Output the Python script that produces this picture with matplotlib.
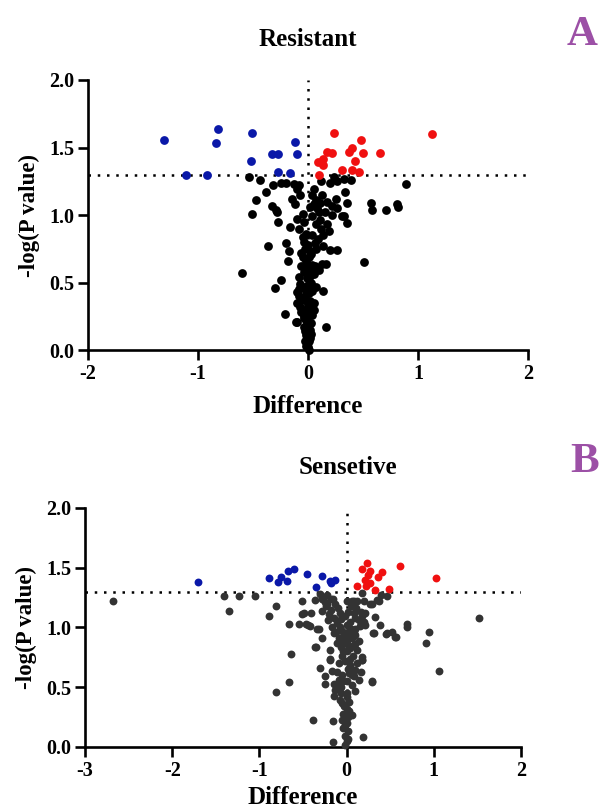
import matplotlib
matplotlib.use("Agg")
import matplotlib.pyplot as plt
from matplotlib.ticker import FormatStrFormatter

plt.rcParams['font.family'] = ['Liberation Serif', 'DejaVu Serif']
plt.rcParams['font.weight'] = 'bold'
plt.rcParams['axes.unicode_minus'] = False

# Resistant panel: significant up (red), significant down (blue), the rest (black)
res_up_x = [0.24, 1.125, 0.48, 0.17, 0.22, 0.375, 0.40, 0.50, 0.65, 0.43, 0.09, 0.14, 0.14, 0.10, 0.31, 0.40, 0.465]
res_up_y = [1.61, 1.60, 1.556, 1.47, 1.46, 1.47, 1.50, 1.457, 1.46, 1.40, 1.395, 1.415, 1.37, 1.30, 1.33, 1.33, 1.32]

res_down_x = [-1.31, -0.82, -0.84, -0.51, -0.52, -0.33, -0.27, -0.12, -0.10, -1.11, -0.92, -0.27, -0.16]
res_down_y = [1.556, 1.635, 1.53, 1.605, 1.40, 1.45, 1.45, 1.54, 1.455, 1.30, 1.30, 1.32, 1.31]

res_ns_x = [-0.54, -0.44, -0.38, -0.32, -0.25, -0.20, -0.13, -0.08, -0.10, -0.07, -0.47, -0.51,
            -0.33, -0.29, -0.28, -0.27, -0.16, -0.36, -0.20, -0.17, -0.18, -0.60, -0.25, -0.30,
            -0.21, -0.11,
            0.04, 0.07, 0.13, 0.11, 0.17, 0.20, 0.12, 0.265, 0.33, 0.39, 0.24, 0.05, 0.34, 0.35,
            0.25, 0.22, 0.26, 0.33, 0.35, 0.22, 0.31, 0.89, 0.57, 0.58, 0.71, 0.81, 0.82, 0.51,
            0.16, 0.14, 0.16, 0.26, 0.20, 0.14, 0.07, 0.02,
            -0.05, -0.04, -0.08, -0.05, -0.04, 0.04, 0.07, 0.11, 0.17, 0.19, 0.14, 0.04, -0.05,
            -0.02, 0.01, 0.04, 0.13, 0.10, 0.05, -0.04, -0.08, -0.01, -0.05, 0.07, 0.04, -0.07,
            -0.10, -0.08, -0.04, 0.01, 0.02, -0.07, -0.02, 0.02, -0.10, 0.04, -0.04, -0.10, -0.01,
            0.02, -0.02, 0.01, -0.01, 0.01, -0.04, -0.01, -0.02, 0.06, -0.03, 0.00, 0.03, -0.06,
            0.02, -0.03, 0.03, -0.06, 0.00, -0.03, 0.03, 0.00, 0.05, -0.06, 0.08, 0.10, 0.02,
            0.05, 0.15, 0.12, 0.09, 0.06, -0.02, -0.10, -0.12, -0.15,
            0.00, 0.02, -0.03, 0.00, -0.05, 0.05, -0.08, 0.00, 0.03, -0.01, -0.03, -0.06,
            0.00, -0.02, 0.03, -0.04]
res_ns_y = [1.28, 1.26, 1.17, 1.22, 1.24, 1.24, 1.23, 1.22, 1.19, 1.15, 1.11, 1.01,
            1.07, 1.04, 1.02, 0.95, 0.91, 0.77, 0.79, 0.73, 0.66, 0.57, 0.52, 0.46,
            0.27, 0.21,
            1.15, 1.11, 1.15, 1.09, 1.10, 1.24, 1.25, 1.25, 1.27, 1.26, 1.28, 1.19, 1.17, 1.09,
            1.12, 1.07, 1.05, 0.99, 0.94, 1.00, 0.99, 1.23, 1.09, 1.04, 1.04, 1.08, 1.06, 0.65,
            0.17, 0.44, 0.64, 0.74, 0.74, 0.77, 0.75, 0.73,
            1.01, 0.95, 0.90, 0.84, 0.80, 0.99, 0.93, 0.96, 0.93, 0.88, 0.85, 0.85, 0.69,
            0.66, 0.69, 0.63, 0.64, 0.59, 0.56, 0.58, 0.54, 0.53, 0.47, 0.47, 0.44, 0.49,
            0.43, 0.40, 0.37, 0.42, 0.36, 0.32, 0.30, 0.31, 0.35, 0.26, 0.24, 0.21, 0.20,
            0.15, 0.11, 0.07, 0.04, 0.00, 0.17, 0.10, 0.03, 0.62, 0.75, 0.78, 0.71, 0.62,
            0.55, 0.45, 0.50, 0.28, 0.25, 0.14, 0.12, 0.06, 0.35, 0.72, 1.05, 1.02, 1.06,
            1.08, 1.02, 0.90, 0.82, 0.79, 0.86, 0.97, 1.08, 1.12,
            0.02, 0.09, 0.07, 0.13, 0.30, 0.30, 0.45, 0.48, 0.58, 0.62, 0.40, 0.38,
            0.33, 0.22, 0.20, 0.25]

# Sensitive panel
sen_up_x = [0.233, 0.175, 0.27, 0.25, 0.405, 0.36, 0.206, 0.27, 0.118, 0.22, 0.33, 0.49, 0.615, 1.03]
sen_up_y = [1.537, 1.487, 1.475, 1.44, 1.467, 1.42, 1.397, 1.375, 1.347, 1.347, 1.314, 1.325, 1.517, 1.41]

sen_down_x = [-1.705, -0.887, -0.79, -0.75, -0.68, -0.67, -0.60, -0.455, -0.28, -0.35, -0.175, -0.13, -0.195]
sen_down_y = [1.38, 1.41, 1.383, 1.425, 1.39, 1.475, 1.49, 1.445, 1.43, 1.336, 1.37, 1.40, 1.39]

sen_ns_x = [-2.68, -1.41, -1.23, -1.05, -1.35, -0.81, -0.89, -0.66, -0.64, -0.66, -0.81, -0.39,
            -0.16, -0.16, -0.51, -0.51, -0.55, -0.47, -0.42, -0.34, -0.405, -0.28, -0.35, -0.30,
            -0.19, -0.245, -0.25, -0.49, -0.44, -0.32, -0.17, -0.36, -0.19, -0.19, -0.15,
            -0.30, -0.36, -0.28, -0.22, -0.16, -0.24, -0.18, -0.28, -0.20, -0.14, -0.11, -0.25,
            -0.13, -0.10, -0.21,
            1.52, 1.055, 0.94, 0.91, 0.69, 0.69, 0.52, 0.57, 0.455, 0.386, 0.30, 0.33, 0.21,
            0.367, 0.46, 0.29, 0.195, 0.08, 0.175, 0.19, 0.10, 0.287, 0.175, 0.06, 0.14, 0.04,
            0.18,
            0.06, 0.12, 0.27, 0.35, 0.39, 0.02, 0.08, 0.14, 0.10, 0.18, 0.215, 0.31, 0.46, 0.56,
            0.04, 0.02, 0.05, 0.11, 0.15,
            -0.09, -0.07, -0.11, -0.04, 0.00, 0.06, 0.10, 0.14, 0.08, 0.04, 0.12, -0.04, -0.05,
            0.04, 0.18,
            -0.17, -0.11, -0.05, -0.09, -0.04, -0.15, -0.13, -0.07, -0.15, 0.04, 0.02, 0.10, 0.16,
            0.08, 0.06, 0.29,
            -0.05, 0.00, -0.04, 0.02, 0.06, -0.05, 0.00, -0.04, 0.02, -0.02, 0.00, -0.02,
            -0.08, -0.05, 0.00, 0.05, -0.02, 0.00, 0.02, -0.02, 0.00, 0.03, -0.03, -0.08, 0.07,
            -0.09, 0.12,
            -0.12, -0.02, 0.08, 0.00, -0.06, 0.10, 0.03, -0.06, 0.00, -0.10, 0.00, 0.03, -0.02,
            0.02, -0.22, -0.18, -0.08, -0.06, 0.10, 0.16, 0.20, 0.00]
sen_ns_y = [1.22, 1.26, 1.26, 1.26, 1.14, 1.18, 1.10, 1.03, 0.78, 0.54, 0.46, 0.23,
            0.22, 0.04, 1.22, 1.11, 1.03, 1.03, 1.01, 0.99, 1.12, 0.91, 0.84, 0.66,
            0.73, 0.59, 0.53, 1.12, 1.02, 0.99, 1.00, 0.84, 0.81, 0.74, 0.95,
            1.28, 1.23, 1.24, 1.27, 1.24, 1.18, 1.15, 1.14, 1.11, 1.08, 1.04, 1.21,
            1.20, 1.16, 1.06,
            1.08, 0.64, 0.96, 0.87, 1.03, 1.00, 0.96, 0.92, 0.945, 1.02, 0.95, 1.09, 1.12,
            1.22, 1.26, 1.20, 1.22, 1.22, 1.29, 0.08, 0.47, 0.54, 0.73, 0.60, 0.56, 0.67,
            0.75,
            1.22, 1.22, 1.20, 1.23, 1.27, 1.13, 1.12, 1.06, 0.99, 1.10, 1.02, 0.95, 0.95, 0.92,
            1.05, 0.96, 1.18, 1.16, 1.01,
            0.91, 0.88, 0.87, 0.92, 0.89, 0.91, 0.94, 0.89, 0.85, 0.83, 0.81, 0.80, 0.76,
            0.74, 0.73,
            0.64, 0.63, 0.60, 0.56, 0.55, 0.53, 0.48, 0.45, 0.43, 0.69, 0.65, 0.645, 0.63,
            0.59, 0.52, 0.55,
            0.365, 0.32, 0.28, 0.25, 0.27, 0.23, 0.20, 0.16, 0.13, 0.09, 0.05, 0.02,
            1.00, 0.97, 1.02, 0.99, 1.10, 0.94, 0.85, 0.72, 0.42, 0.38, 0.34, 0.39, 0.76,
            0.70, 0.70,
            0.96, 0.88, 0.95, 0.80, 0.84, 0.86, 0.62, 0.50, 0.55, 0.50, 0.45, 0.30, 0.18,
            0.07, 1.20, 1.24, 1.12, 1.07, 1.08, 1.13, 1.05, 1.22]

RED = '#f01010'
BLUE = '#0a18a8'
PURPLE = '#9c50a6'


def volcano(ax, up, down, ns, ns_color, size, xlim, xticks):
    ax.scatter(ns[0], ns[1], s=size, color=ns_color, linewidths=0, zorder=3, clip_on=False)
    ax.scatter(down[0], down[1], s=size, color=BLUE, linewidths=0, zorder=3, clip_on=False)
    ax.scatter(up[0], up[1], s=size, color=RED, linewidths=0, zorder=3, clip_on=False)

    # significance cutoffs
    ax.axhline(1.3, color='black', lw=1.8, linestyle=(0, (1, 2.7)), zorder=2)
    ax.axvline(0, color='black', lw=1.8, linestyle=(0, (1, 2.7)), zorder=2)

    ax.set_xlim(xlim)
    ax.set_ylim(0, 2)
    ax.set_xticks(xticks)
    ax.set_yticks([0, 0.5, 1.0, 1.5, 2.0])
    ax.yaxis.set_major_formatter(FormatStrFormatter('%.1f'))
    for side in ['top', 'right']:
        ax.spines[side].set_visible(False)
    for side in ['left', 'bottom']:
        ax.spines[side].set_linewidth(1.9)
    ax.tick_params(direction='out', length=7, width=1.9, labelsize=14.5, pad=3)
    for lab in ax.get_xticklabels() + ax.get_yticklabels():
        lab.set_fontweight('bold')
    ax.set_xlabel('Difference', fontsize=18, fontweight='bold')
    ax.set_ylabel('-log(P value)', fontsize=16.5, fontweight='bold')


fig = plt.figure(figsize=(6, 8.08), dpi=100)

axA = fig.add_axes([0.1467, 0.5668, 0.7333, 0.3342])
volcano(axA, (res_up_x, res_up_y), (res_down_x, res_down_y), (res_ns_x, res_ns_y),
        '#000000', 40, (-2, 2), [-2, -1, 0, 1, 2])
axA.xaxis.set_label_coords(0.5, -0.165)
axA.yaxis.set_label_coords(-0.11, 0.5)

axB = fig.add_axes([0.1417, 0.0755, 0.7267, 0.2958])
volcano(axB, (sen_up_x, sen_up_y), (sen_down_x, sen_down_y), (sen_ns_x, sen_ns_y),
        '#333333', 32, (-3, 2), [-3, -2, -1, 0, 1, 2])
axB.xaxis.set_label_coords(0.5, -0.165)
axB.yaxis.set_label_coords(-0.11, 0.5)

fig.text(0.513, 0.951, 'Resistant', ha='center', va='center', fontsize=18, fontweight='bold')
fig.text(0.580, 0.421, 'Sensetive', ha='center', va='center', fontsize=18, fontweight='bold')
fig.text(0.970, 0.957, 'A', ha='center', va='center', fontsize=31, fontweight='bold', color=PURPLE)
fig.text(0.975, 0.428, 'B', ha='center', va='center', fontsize=31, fontweight='bold', color=PURPLE)

fig.savefig('out.png', dpi=100)
